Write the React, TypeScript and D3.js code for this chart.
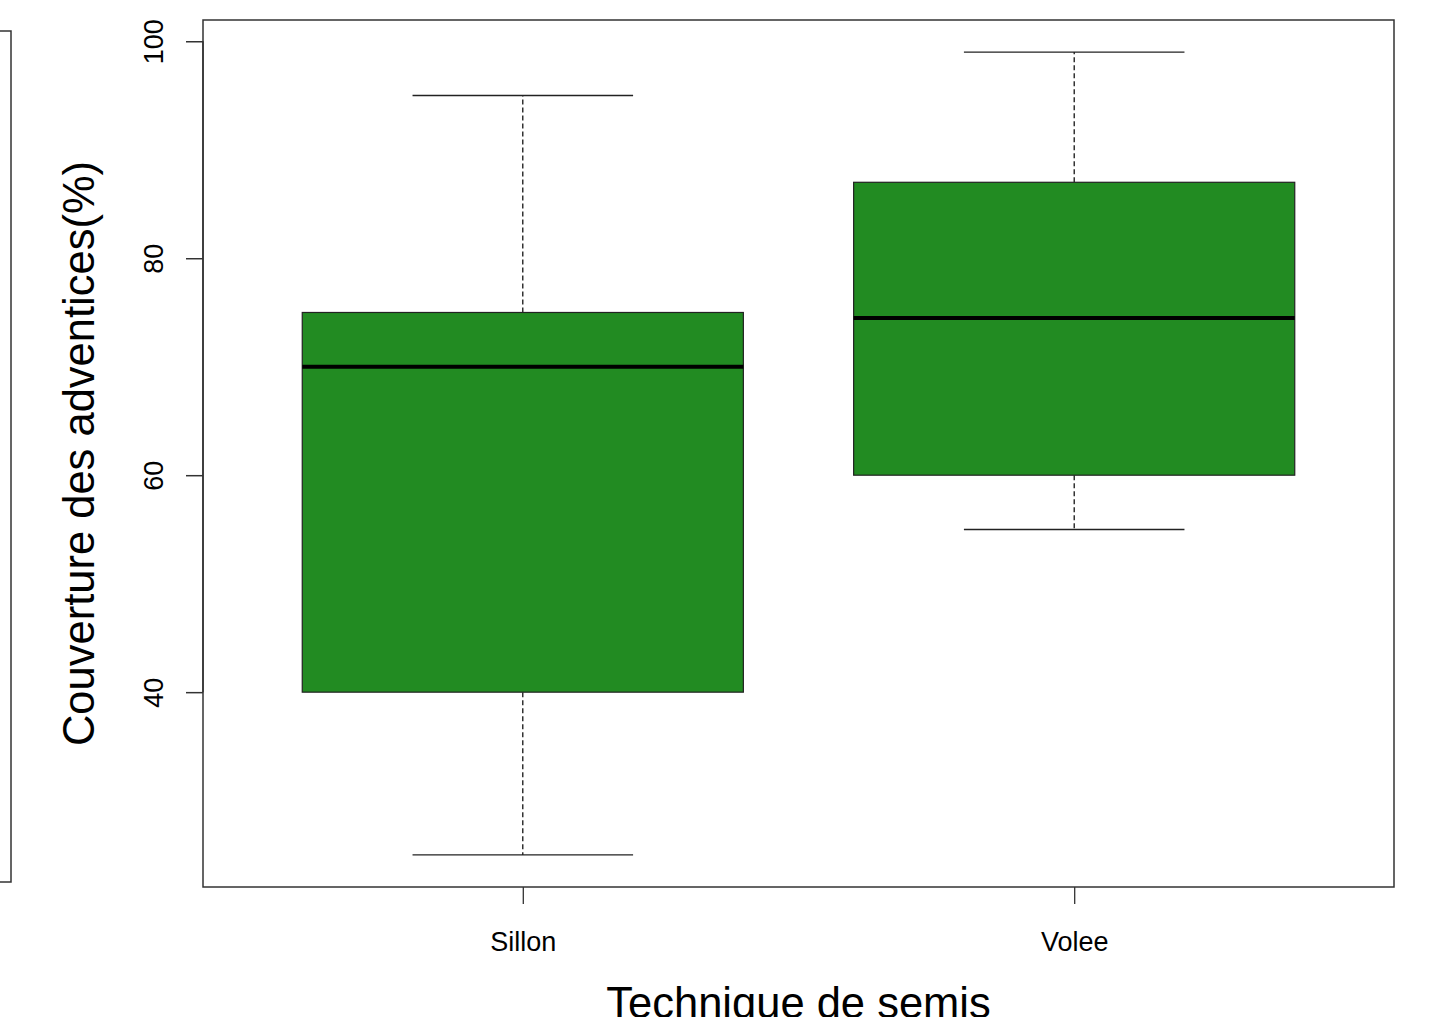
import React, { useEffect, useRef } from 'react';
import * as d3 from 'd3';

// boxplot stats
const groups = ['Sillon', 'Volee'];
const whiskerLow = [25, 55];
const q1 = [40, 60];
const median = [70, 74.5];
const q3 = [75, 87];
const whiskerHigh = [95, 99];
const yTicks = [40, 60, 80, 100];

const App = () => {
  const svgRef = useRef<SVGSVGElement>(null);

  useEffect(() => {
    if (!svgRef.current) return;
    const svg = d3.select(svgRef.current);
    svg.selectAll('*').remove();

    const width = 1433;
    const height = 1017;
    const margin = { top: 20, right: 39, bottom: 130, left: 203 };
    const font = '"Liberation Sans", Arial, sans-serif';

    const x = d3.scaleLinear()
      .domain([0.42, 2.58])
      .range([margin.left, width - margin.right]);

    const y = d3.scaleLinear()
      .domain([22.04, 101.96])
      .range([height - margin.bottom, margin.top]);

    svg.attr('width', width).attr('height', height);

    // right edge of the neighbouring plot's frame, cut off on the left
    svg.append('rect')
      .attr('x', -20).attr('y', 31)
      .attr('width', 31).attr('height', 851)
      .attr('fill', 'none')
      .attr('stroke', '#333').attr('stroke-width', 1.5);

    const data = groups.map((g, i) => ({
      g, pos: i + 1,
      lo: whiskerLow[i], q1: q1[i], med: median[i], q3: q3[i], hi: whiskerHigh[i]
    }));

    const boxW = x(1.4) - x(1);
    const capW = x(1.2) - x(1);

    const box = svg.selectAll('g.box')
      .data(data)
      .join('g')
      .attr('class', 'box');

    // whiskers (dashed)
    box.append('line')
      .attr('x1', d => x(d.pos)).attr('x2', d => x(d.pos))
      .attr('y1', d => y(d.q3)).attr('y2', d => y(d.hi))
      .attr('stroke', '#000').attr('stroke-width', 1.2).attr('stroke-dasharray', '5,3');
    box.append('line')
      .attr('x1', d => x(d.pos)).attr('x2', d => x(d.pos))
      .attr('y1', d => y(d.q1)).attr('y2', d => y(d.lo))
      .attr('stroke', '#000').attr('stroke-width', 1.2).attr('stroke-dasharray', '5,3');

    // caps
    box.append('line')
      .attr('x1', d => x(d.pos) - capW).attr('x2', d => x(d.pos) + capW)
      .attr('y1', d => y(d.hi)).attr('y2', d => y(d.hi))
      .attr('stroke', '#222').attr('stroke-width', 1.4);
    box.append('line')
      .attr('x1', d => x(d.pos) - capW).attr('x2', d => x(d.pos) + capW)
      .attr('y1', d => y(d.lo)).attr('y2', d => y(d.lo))
      .attr('stroke', '#222').attr('stroke-width', 1.4);

    box.append('rect')
      .attr('x', d => x(d.pos) - boxW)
      .attr('y', d => y(d.q3))
      .attr('width', boxW * 2)
      .attr('height', d => y(d.q1) - y(d.q3))
      .attr('fill', '#228B22')
      .attr('stroke', '#222').attr('stroke-width', 1.2);

    box.append('line')
      .attr('x1', d => x(d.pos) - boxW).attr('x2', d => x(d.pos) + boxW)
      .attr('y1', d => y(d.med)).attr('y2', d => y(d.med))
      .attr('stroke', '#000').attr('stroke-width', 4);

    // frame
    svg.append('rect')
      .attr('x', margin.left).attr('y', margin.top)
      .attr('width', width - margin.left - margin.right)
      .attr('height', height - margin.top - margin.bottom)
      .attr('fill', 'none')
      .attr('stroke', '#333').attr('stroke-width', 1.5);

    // y axis
    const yAxis = svg.append('g')
      .attr('transform', `translate(${margin.left},0)`)
      .call(d3.axisLeft(y).tickValues(yTicks).tickSize(17).tickFormat(d3.format('d')));
    yAxis.select('.domain')
      .attr('d', `M0,${y(40)}V${y(100)}`)
      .attr('stroke', '#333').attr('stroke-width', 1.5);
    yAxis.selectAll('.tick line').attr('stroke', '#333').attr('stroke-width', 1.5);
    yAxis.selectAll('.tick text')
      .attr('x', 0).attr('y', -40).attr('dy', null)
      .attr('transform', 'rotate(-90)')
      .attr('text-anchor', 'middle')
      .style('font-family', font).style('font-size', '27px').attr('fill', '#000');

    // x axis
    const xAxis = svg.append('g')
      .attr('transform', `translate(0,${height - margin.bottom})`)
      .call(d3.axisBottom(x).tickValues([1, 2]).tickSize(17).tickFormat((d) => groups[(d as number) - 1]));
    xAxis.select('.domain').remove();
    xAxis.selectAll('.tick line').attr('stroke', '#333').attr('stroke-width', 1.3);
    xAxis.selectAll('.tick text')
      .attr('y', 64).attr('dy', null)
      .style('font-family', font).style('font-size', '27px').attr('fill', '#000');

    // axis titles
    svg.append('text')
      .attr('x', (margin.left + width - margin.right) / 2)
      .attr('y', 1018)
      .attr('text-anchor', 'middle')
      .style('font-family', font).style('font-size', '43.5px')
      .text('Technique de semis');

    svg.append('text')
      .attr('transform', `translate(94,${(margin.top + height - margin.bottom) / 2}) rotate(-90)`)
      .attr('text-anchor', 'middle')
      .style('font-family', font).style('font-size', '43.5px')
      .text('Couverture des adventices(%)');
  }, []);

  return (
    <svg ref={svgRef} style={{ position: 'absolute', left: 0, top: 0, background: '#fff' }}></svg>
  );
};

export default App;
